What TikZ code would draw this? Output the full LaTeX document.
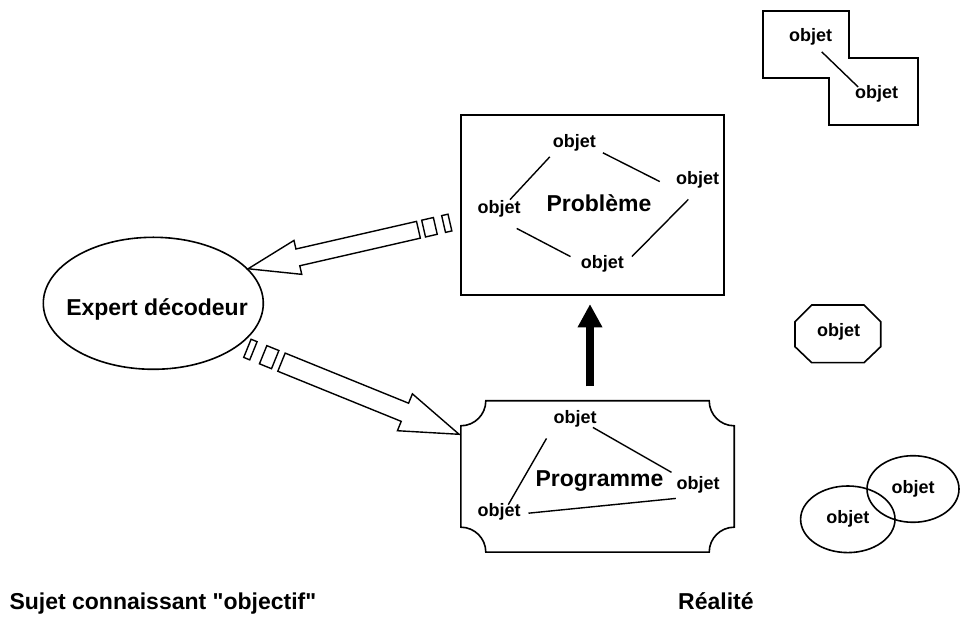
\documentclass[tikz,border=0pt]{standalone}
\usepackage{fontspec}
\setmainfont{Liberation Sans}[Ligatures=TeXOff]
\usetikzlibrary{arrows.meta,shapes.geometric}
\tikzset{
  outline/.style={line width=1.6pt, line join=miter},
  obj/.style={font=\fontsize{18}{20}\selectfont\bfseries, inner sep=0pt, anchor=base},
  big/.style={font=\fontsize{23}{26}\selectfont\bfseries, inner sep=0pt, anchor=base},
  link/.style={line width=1.4pt},
  stripe/.style={line width=1.4pt, fill=white, line join=miter},
  bigarrow/.style={line width=8pt, -{Triangle[width=23.4pt,length=23.4pt]}},
}
\begin{document}
\begin{tikzpicture}[x=1pt,y=1pt]
\useasboundingbox (0,0) rectangle (963,620);

% ---------- Probleme box ----------
\node[draw, outline, minimum width=263pt, minimum height=180pt, inner sep=0pt] (prob) at (592.5,415) {};
\node[big] (probl) at (599,408.5) {Problème};
\node[obj] (pt) at (574.3,472) {objet};
\node[obj] (pr) at (697.7,435) {objet};
\node[obj] (pl) at (499,406.7) {objet};
\node[obj] (pb) at (602.3,351.7) {objet};
\draw[link] ([shift={(-2.8,-4.9)}]pt.south west) -- ([shift={(11,0.4)}]pl.north);
\draw[link] ([shift={(6.9,-0.9)}]pt.south east) -- ([shift={(-16.2,-1.25)}]pr.west);
\draw[link] ([shift={(-9.4,-10.5)}]pr.south) -- ([shift={(7.9,7.05)}]pb.east);
\draw[link] ([shift={(17.7,-11.2)}]pl.south) -- ([shift={(-10.1,7.05)}]pb.west);

% ---------- Programme box ----------
\node[minimum width=273pt, minimum height=151pt, inner sep=0pt] (prog) at (597.5,143.5) {};
\draw[outline] ([xshift=25pt]prog.north west) -- ([xshift=-25pt]prog.north east)
  arc[start angle=180, end angle=270, radius=25pt]
  -- ([yshift=25pt]prog.south east)
  arc[start angle=90, end angle=180, radius=25pt]
  -- ([xshift=25pt]prog.south west)
  arc[start angle=0, end angle=90, radius=25pt]
  -- ([yshift=-25pt]prog.north west)
  arc[start angle=270, end angle=360, radius=25pt] -- cycle;
\node[big] (progl) at (599.5,133.5) {Programme};
\node[obj] (gt) at (575,196.5) {objet};
\node[obj] (gr) at (698,130) {objet};
\node[obj] (gl) at (499,103) {objet};
\draw[link] ([shift={(-6.8,-11)}]gt.south west) -- ([shift={(9.3,-0.9)}]gl.north);
\draw[link] ([shift={(-3.8,0)}]gt.south east) -- ([shift={(-4.8,4.4)}]gr.north west);
\draw[link] ([shift={(7.8,-0.85)}]gl.east) -- ([shift={(-0.5,-4.5)}]gr.south west);

% ---------- thick arrow Programme -> Probleme ----------
\draw[bigarrow] ([xshift=-7.5pt,yshift=14.3pt]prog.north) -- ([xshift=-2.5pt,yshift=-8.3pt]prob.south);

% ---------- Expert ----------
\node[ellipse, draw, outline, minimum width=220pt, minimum height=132pt, inner sep=0pt] (expert) at (153.3,316.7) {};
\node[big] (expertl) at (157,304.5) {Expert décodeur};

% striped arrow Probleme -> Expert
\begin{scope}[shift={(expert.20)}, rotate=12.9]
  \draw[stripe] (0,0) -- (51,17.4) -- (51,8.6) -- (174.7,8.6) -- (174.7,-8.6) -- (51,-8.6) -- (51,-17.4) -- cycle;
  \draw[stripe] (180,-8.6) rectangle (192,8.6);
  \draw[stripe] (200.5,-8.6) rectangle (207,8.6);
\end{scope}

% striped arrow Expert -> Programme
\coordinate (ltip) at ([shift={(-1.7,42.2)}]prog.west);
\begin{scope}[shift={(ltip)}, rotate=157.9]
  \draw[stripe] (0,0) -- (58.5,19.9) -- (58.5,9.8) -- (191.7,9.8) -- (191.7,-9.8) -- (58.5,-9.8) -- (58.5,-19.9) -- cycle;
  \draw[stripe] (198.5,-9.8) rectangle (211.5,9.8);
  \draw[stripe] (222,-9.8) rectangle (228.5,9.8);
\end{scope}

% ---------- Realite objects ----------
\draw[outline] (763,609) -- (849,609) -- (849,562) -- (918,562) -- (918,495) -- (829,495) -- (829,542) -- (763,542) -- cycle;
\node[obj] (o1) at (810.5,578) {objet};
\node[obj] (o2) at (876.5,521.5) {objet};
\draw[link] ([shift={(11.2,-5.9)}]o1.south) -- ([shift={(3.3,-1.7)}]o2.north west);

\draw[outline] (811.7,315) -- (864,315) -- (880.7,298.3) -- (880.7,273.3) -- (864,257.3) -- (811.7,257.3) -- (795,273.3) -- (795,298.3) -- cycle;
\node[obj] (oc) at (838.5,283) {objet};

\node[ellipse, draw, outline, minimum width=94.4pt, minimum height=66.6pt, inner sep=0pt,
      font=\fontsize{18}{20}\selectfont\bfseries] (e1) at (847.8,100.7) {objet};
\node[ellipse, draw, outline, minimum width=92pt, minimum height=66.6pt, inner sep=0pt,
      font=\fontsize{18}{20}\selectfont\bfseries] (e2) at (913,131) {objet};

% ---------- captions ----------
\node[big, anchor=base west] (sujet) at (9.3,10) {Sujet connaissant "objectif"};
\node[big, anchor=base west] (realite) at (678,10) {Réalité};
\end{tikzpicture}
\end{document}
